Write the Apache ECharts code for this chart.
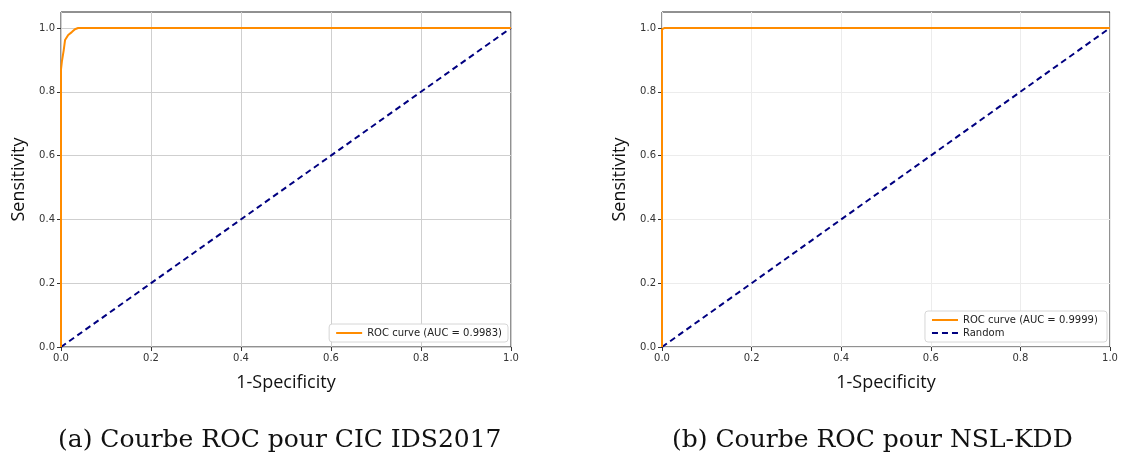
<!DOCTYPE html>
<html>
<head>
<meta charset="utf-8">
<script src="https://cdn.jsdelivr.net/npm/echarts@6/dist/echarts.min.js"></script>
<style>
  html, body { margin: 0; padding: 0; background: #fff; }
  #main { width: 1121px; height: 465px; }
</style>
</head>
<body>
<div id="main"></div>
<script>
// ROC points [fpr, tpr]
const rocCic = [[0, 0], [0, 0.87], [0.002, 0.895], [0.006, 0.93], [0.009, 0.962], [0.016, 0.978], [0.024, 0.987], [0.031, 0.996], [0.038, 1.0], [1, 1]]
const rocNsl = [[0, 0], [0, 0.996], [0.003, 0.999], [0.006, 1.0], [1, 1]]
const randomLine = [[0, 0], [1, 1]]
const tickValues = [0, 0.2, 0.4, 0.6, 0.8, 1.0]
const aucCic = 0.9983
const aucNsl = 0.9999
const captions = ['(a) Courbe ROC pour CIC IDS2017', '(b) Courbe ROC pour NSL-KDD']

const chart = echarts.init(document.getElementById('main'), null, { renderer: 'canvas' })

const tickFont = { fontFamily: 'DejaVu Sans', fontSize: 10, color: '#333' }
const nameFont = { fontFamily: 'Open Sans', fontSize: 18, color: '#111' }

function xAxisFor(idx, gridColor) {
  return {
    type: 'value', gridIndex: idx, min: 0, max: 1,
    name: '1-Specificity', nameLocation: 'middle', nameGap: 27, nameTextStyle: nameFont,
    axisLine: { show: false },
    axisTick: { show: true, length: 4, inside: false, customValues: tickValues, lineStyle: { color: '#333' } },
    axisLabel: Object.assign({ customValues: tickValues, margin: 6, formatter: v => v.toFixed(1) }, tickFont),
    splitLine: { show: true, lineStyle: { color: gridColor, width: 1 } }
  }
}
function yAxisFor(idx, gridColor) {
  return {
    type: 'value', gridIndex: idx, min: 0, max: 1.05,
    name: 'Sensitivity', nameLocation: 'middle', nameGap: 33, nameTextStyle: nameFont,
    axisLine: { show: false },
    axisTick: { show: true, length: 4, inside: false, customValues: tickValues, lineStyle: { color: '#333' } },
    axisLabel: Object.assign({ customValues: tickValues, margin: 6, formatter: v => v.toFixed(1) }, tickFont),
    splitLine: { show: true, lineStyle: { color: gridColor, width: 1 } }
  }
}

const legendBox = {
  backgroundColor: '#fff', borderColor: '#d6d6d6', borderWidth: 1, borderRadius: 3,
  itemWidth: 26, itemHeight: 10, itemGap: 3, padding: [4, 6],
  orient: 'vertical',
  itemStyle: { opacity: 0 },
  textStyle: { fontFamily: 'DejaVu Sans', fontSize: 10, color: '#222' }
}

chart.setOption({
  animation: false,
  grid: [
    { left: 61, right: 610, top: 12, bottom: 118, show: true, borderColor: '#222', borderWidth: 1, backgroundColor: 'transparent' },
    { left: 662, right: 11, top: 12, bottom: 118, show: true, borderColor: '#222', borderWidth: 1, backgroundColor: 'transparent' }
  ],
  xAxis: [xAxisFor(0, '#cfcfcf'), xAxisFor(1, '#ececec')],
  yAxis: [yAxisFor(0, '#cfcfcf'), yAxisFor(1, '#ececec')],
  legend: [
    Object.assign({ data: ['ROC curve (AUC = ' + aucCic + ')'], right: 613, bottom: 123 }, legendBox),
    Object.assign({ data: ['ROC curve (AUC = ' + aucNsl + ') ', 'Random'], right: 14, bottom: 123 }, legendBox)
  ],
  series: [
    {
      name: 'Random (a)', type: 'line', xAxisIndex: 0, yAxisIndex: 0, data: randomLine,
      symbol: 'none', lineStyle: { color: '#000080', width: 2, type: [6, 4] }, itemStyle: { color: '#000080' }
    },
    {
      name: 'ROC curve (AUC = ' + aucCic + ')', type: 'line', xAxisIndex: 0, yAxisIndex: 0, data: rocCic,
      symbol: 'none', lineStyle: { color: '#ff8c00', width: 2 }, itemStyle: { color: '#ff8c00' }
    },
    {
      name: 'Random', type: 'line', xAxisIndex: 1, yAxisIndex: 1, data: randomLine,
      symbol: 'none', lineStyle: { color: '#000080', width: 2, type: [6, 4] }, itemStyle: { color: '#000080' }
    },
    {
      name: 'ROC curve (AUC = ' + aucNsl + ') ', type: 'line', xAxisIndex: 1, yAxisIndex: 1, data: rocNsl,
      symbol: 'none', lineStyle: { color: '#ff8c00', width: 2 }, itemStyle: { color: '#ff8c00' }
    }
  ],
  graphic: [
    { type: 'text', left: 58, top: 428, style: { text: captions[0], font: '25px "DejaVu Serif", serif', fill: '#111' } },
    { type: 'text', left: 672, top: 428, style: { text: captions[1], font: '25px "DejaVu Serif", serif', fill: '#111' } }
  ]
})
</script>
</body>
</html>
